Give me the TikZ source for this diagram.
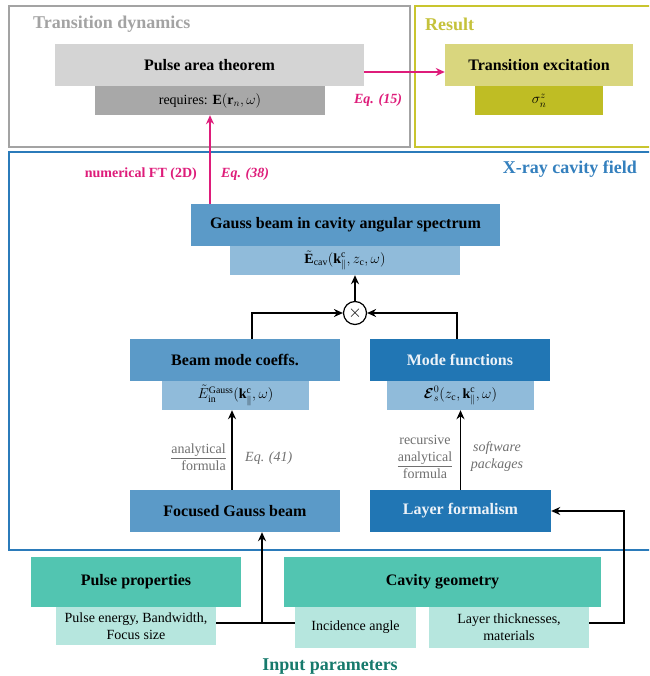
\documentclass[tikz,border=0pt]{standalone}
\usepackage{amsmath,amssymb}
\usepackage{fontspec}
\setmainfont{Liberation Serif}
\usetikzlibrary{arrows.meta,calc}
\definecolor{frgray}{RGB}{163,163,163}
\definecolor{patfill}{RGB}{212,212,212}
\definecolor{reqfill}{RGB}{168,168,168}
\definecolor{magenta2}{RGB}{222,28,122}
\definecolor{olivetitle}{RGB}{197,194,59}
\definecolor{olivefr}{RGB}{201,197,46}
\definecolor{texfill}{RGB}{217,214,126}
\definecolor{sigfill}{RGB}{191,189,36}
\definecolor{bluefr}{RGB}{43,123,186}
\definecolor{bluetitle}{RGB}{52,128,190}
\definecolor{bluemid}{RGB}{91,154,200}
\definecolor{bluelight}{RGB}{144,187,218}
\definecolor{bluedark}{RGB}{33,118,180}
\definecolor{whitish}{RGB}{236,242,248}
\definecolor{tealmid}{RGB}{82,197,177}
\definecolor{teallight}{RGB}{182,230,222}
\definecolor{tealdark}{RGB}{22,122,108}
\definecolor{lblgray}{RGB}{112,112,112}
\tikzset{
  headbox/.style={inner sep=0pt, font=\fontsize{16}{19}\selectfont\bfseries, text=black},
  subbox/.style={inner sep=0pt, font=\fontsize{14}{17}\selectfont, align=center, text=black},
  frame/.style={line width=2pt},
  arr/.style={line width=1.6pt, -{Stealth[length=9pt,width=8pt]}},
  plainline/.style={line width=1.6pt},
  marr/.style={line width=1.6pt, draw=magenta2, -{Stealth[length=9pt,width=8pt]}},
  grouptitle/.style={inner sep=0pt, font=\fontsize{18}{21}\selectfont\bfseries},
  lbl/.style={inner sep=0pt, font=\fontsize{14}{17}\selectfont, text=lblgray},
  mlbl/.style={inner sep=0pt, font=\fontsize{14}{17}\selectfont\bfseries, text=magenta2},
}
\begin{document}
\begin{tikzpicture}[x=1pt,y=-1pt]
\clip (0,0) rectangle (649,676);
\fill[white] (0,0) rectangle (649,676);
% frames
\draw[frame, draw=frgray] (9,6.5) rectangle (410,147);
\draw[frame, draw=olivefr] (415,6.5) rectangle (655,147);
\draw[frame, draw=bluefr] (9,152) rectangle (655,550);
% group titles
\node[grouptitle, text=frgray, anchor=west] (ttd) at (33,24) {Transition dynamics};
\node[grouptitle, text=olivetitle, anchor=west] (tres) at (425,24) {Result};
\node[grouptitle, text=bluetitle, anchor=east] (txr) at (637,169) {X-ray cavity field};
\node[grouptitle, text=tealdark] (tin) at (330,667) {Input parameters};
% top nodes
\node[headbox, fill=patfill, minimum width=309pt, minimum height=42pt] (pat) at (209.5,65) {Pulse area theorem};
\node[subbox, fill=reqfill, minimum width=230pt, minimum height=29pt] (req) at (210,100.5) {requires: $\mathbf{E}(\mathbf{r}_n,\omega)$};
\node[headbox, fill=texfill, minimum width=188pt, minimum height=42pt] (tex) at (539,65) {Transition excitation};
\node[subbox, fill=sigfill, minimum width=128pt, minimum height=29pt] (sig) at (539,100.5) {$\sigma_n^z$};
% cavity nodes
\node[headbox, fill=bluemid, minimum width=309pt, minimum height=42pt] (gbc) at (345.5,225) {Gauss beam in cavity angular spectrum};
\node[subbox, fill=bluelight, minimum width=230pt, minimum height=29pt] (ecav) at (345,260.5) {$\tilde{\mathbf{E}}_{\mathrm{cav}}(\mathbf{k}_{\parallel}^{\mathrm{c}}, z_{\mathrm{c}}, \omega)$};
\node[circle, draw, line width=1.2pt, fill=white, minimum size=23pt, inner sep=0pt, font=\fontsize{16}{19}\selectfont] (mul) at (355,313) {$\times$};
\node[headbox, fill=bluemid, minimum width=210pt, minimum height=42pt] (bmc) at (235,360) {Beam mode coeffs.};
\node[subbox, fill=bluelight, minimum width=147pt, minimum height=29pt] (ein) at (235.5,395.5) {$\tilde{E}_{\mathrm{in}}^{\mathrm{Gauss}}(\mathbf{k}_{\parallel}^{\mathrm{c}},\omega)$};
\node[headbox, fill=bluedark, text=whitish, minimum width=180pt, minimum height=42pt] (mf) at (460,360) {Mode functions};
\node[subbox, fill=bluelight, minimum width=147pt, minimum height=29pt] (es) at (460.5,395.5) {$\boldsymbol{\mathcal{E}}_s^0(z_{\mathrm{c}},\mathbf{k}_{\parallel}^{\mathrm{c}},\omega)$};
\node[headbox, fill=bluemid, minimum width=210pt, minimum height=42pt] (fgb) at (235,511) {Focused Gauss beam};
\node[headbox, fill=bluedark, text=whitish, minimum width=181pt, minimum height=42pt] (lf) at (460.5,511) {Layer formalism};
% input nodes
\node[headbox, fill=tealmid, minimum width=210pt, minimum height=50pt] (pp) at (136,582) {Pulse properties};
\node[subbox, fill=teallight, minimum width=160pt, minimum height=38pt] (ppsub) at (136,626) {Pulse energy, Bandwidth,\\Focus size};
\node[headbox, fill=tealmid, minimum width=317pt, minimum height=50pt] (cg) at (442.5,582) {Cavity geometry};
\node[subbox, fill=teallight, minimum width=121pt, minimum height=41pt] (ia) at (355.5,627.5) {Incidence angle};
\node[subbox, fill=teallight, minimum width=160pt, minimum height=41pt] (lt) at (509,627.5) {Layer thicknesses,\\materials};
% labels
\node[mlbl, font=\fontsize{14}{17}\selectfont\bfseries\itshape] (eq15) at (378,100) {Eq. (15)};
\node[mlbl, anchor=east] (nft) at (197,174) {numerical FT (2D)};
\node[mlbl, font=\fontsize{14}{17}\selectfont\bfseries\itshape, anchor=west] (eq38) at (221,174) {Eq. (38)};
\node[lbl, align=right, anchor=east] (anf) at (226,457) {\underline{analytical}\\formula};
\node[lbl, font=\fontsize{14}{17}\selectfont\itshape, anchor=west] (eq41) at (245,458) {Eq. (41)};
\node[lbl, align=center] (raf) at (425,457) {recursive\\\underline{analytical}\\formula};
\node[lbl, font=\fontsize{14}{17}\selectfont\itshape, align=center] (swp) at (497,457) {software\\packages};
% connectors
\draw[marr] ([yshift=-7pt]pat.east) -- ([yshift=-7pt]tex.west);
\draw[marr] (req.south |- gbc.north) -- (req.south);
\draw[arr] (mul.north) -- (mul.north |- ecav.south);
\draw[arr] ([xshift=17pt]bmc.north) |- (mul.west);
\draw[arr] ([xshift=-3pt]mf.north) |- (mul.east);
\draw[arr] ([xshift=-3pt]fgb.north) -- ([xshift=-3pt]fgb.north |- ein.south);
\draw[arr] (lf.north) -- (lf.north |- es.south);
\coordinate (j) at (262,623);
\coordinate (r) at (624,623);
\draw[plainline] (ppsub.east |- j) -- (ia.west |- j);
\draw[arr] (j) -- (j |- fgb.south);
\draw[arr] (lt.east |- r) -- (r) |- (lf.east);
\end{tikzpicture}
\end{document}
